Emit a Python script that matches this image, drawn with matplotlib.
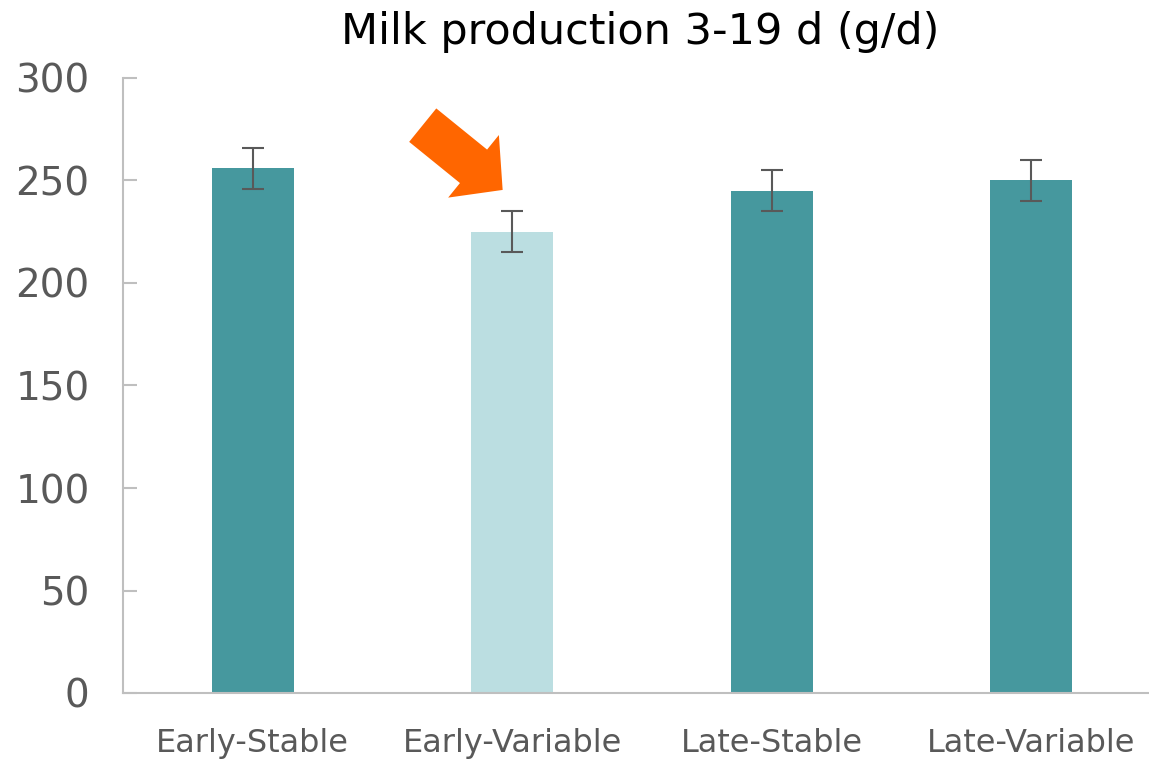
import matplotlib
matplotlib.use("Agg")
import matplotlib.pyplot as plt

# data
groups = ["Early-Stable", "Early-Variable", "Late-Stable", "Late-Variable"]
milk = [256, 225, 245, 250]
err = [10, 10, 10, 10]
bar_colors = ["#46989E", "#BBDEE1", "#46989E", "#46989E"]
yticks = [0, 50, 100, 150, 200, 250, 300]

plt.rcParams['font.family'] = ['DejaVu Sans']

fig = plt.figure(figsize=(11.49, 7.62), dpi=100)
W, H = 1149, 762
ax = fig.add_axes([123 / W, (H - 693) / H, (1161 - 123) / W, (693 - 78) / H])

x = range(len(groups))
ax.bar(x, milk, width=0.316, color=bar_colors, zorder=2)
ax.errorbar(x, milk, yerr=err, fmt='none', ecolor="#595959", elinewidth=1.5,
            capsize=8, capthick=1.5, zorder=3)

ax.set_xlim(-0.5, 3.5)
ax.set_ylim(0, 300)
ax.set_yticks(yticks)
ax.set_xticks(list(x))
ax.set_xticklabels(groups)

for s in ['top', 'right']:
    ax.spines[s].set_visible(False)
for s in ['left', 'bottom']:
    ax.spines[s].set_color("#BFBFBF")
    ax.spines[s].set_linewidth(1.5)

ax.tick_params(axis='y', direction='in', length=10, width=1.5, color="#BFBFBF",
               labelsize=28, labelcolor="#595959", pad=24)
ax.tick_params(axis='x', length=0, labelsize=23, labelcolor="#595959", pad=25)

fig.text(0.557, 0.958, "Milk production 3-19 d (g/d)", ha='center', va='center',
         fontsize=31, color="black")

# orange arrow pointing at Early-Variable
ax.annotate("", xy=(0.963, 245.4), xytext=(0.655, 277),
            arrowprops=dict(arrowstyle="simple,head_length=27,head_width=58,tail_width=31",
                            mutation_scale=1, color="#FF6600", shrinkA=0, shrinkB=0,
                            lw=0))

fig.savefig("out.png", dpi=100)
